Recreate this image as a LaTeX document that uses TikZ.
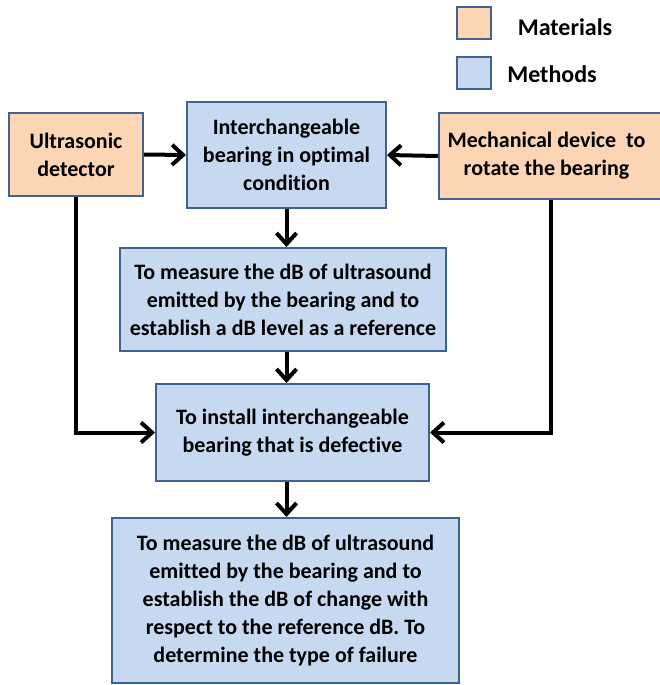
\documentclass[tikz,border=0pt]{standalone}
\usepackage{fontspec}
\setmainfont{Carlito}[Ligatures=NoCommon]
\usepackage{xcolor}
\usepackage{tikz}
\usetikzlibrary{positioning,arrows.meta}
\definecolor{matfill}{HTML}{FCD5B5}
\definecolor{metfill}{HTML}{C6D9F1}
\definecolor{boxline}{HTML}{3F6391}

\begin{document}
\begin{tikzpicture}[x=1pt,y=-1pt,
							matbox/.style = {rectangle, draw=boxline, fill=matfill, line width=2pt, align=center, inner sep=0pt, font=\fontsize{22}{28}\selectfont\bfseries},
							metbox/.style = {rectangle, draw=boxline, fill=metfill, line width=2pt, align=center, inner sep=0pt, font=\fontsize{22}{28}\selectfont\bfseries},
							arr/.style = {line width=4pt, -{Straight Barb[length=11pt,width=20pt]}}]
			\useasboundingbox (0,0) rectangle (659,685);
			% legend
			\node[matbox, minimum width=34pt, minimum height=32pt] (lmat) at (474,23) {};
			\node[metbox, minimum width=34pt, minimum height=32pt] (lmet) at (474,73) {};
			\node[font=\fontsize{24}{28}\selectfont\bfseries] (tmat) at (565,27) {Materials};
			\node[font=\fontsize{24}{28}\selectfont\bfseries] (tmet) at (552,74) {Methods};
			
			\node[matbox, minimum width=134pt, minimum height=83pt] (ultr) at (76,154.5) {Ultrasonic\\detector};
			\node[metbox, minimum width=199pt, minimum height=106pt] (ibear) at (286.5,155) {Interchangeable\\bearing in optimal\\condition};
			\node[matbox, minimum width=223pt, minimum height=86pt] (mech) at (550.5,156) {Mechanical device\ \ to\hspace*{8pt}\\rotate the bearing\hspace*{8pt}};
			\node[metbox, minimum width=326pt, minimum height=103pt] (meas) at (283,299.5) {To measure the dB of ultrasound\\emitted by the bearing and to\\establish a dB level as a reference};
			\node[metbox, minimum width=273pt, minimum height=97pt] (inst) at (292.5,432.5) {To install interchangeable\\bearing that is defective};
			\node[metbox, minimum width=347pt, minimum height=165pt] (fin) at (285.5,600.5) {To measure the dB of ultrasound\\emitted by the bearing and to\\establish the dB of change with\\respect to the reference dB. To\\determine the type of failure};
			\coordinate (ax) at (ibear.south);
			
			\draw[arr] (ultr.east) to (ibear.west);
			\draw[arr] (mech.west) to (ibear.east);
			\draw[arr] (ibear.south) to (ax |- meas.north);
			\draw[arr] (ax |- meas.south) to (ax |- inst.north);
			\draw[arr] (ax |- inst.south) to (ax |- fin.north);
			\draw[arr] (ultr.south) |- (inst.west);
			\draw[arr] (mech.south) |- (inst.east);
		\end{tikzpicture}
\end{document}
